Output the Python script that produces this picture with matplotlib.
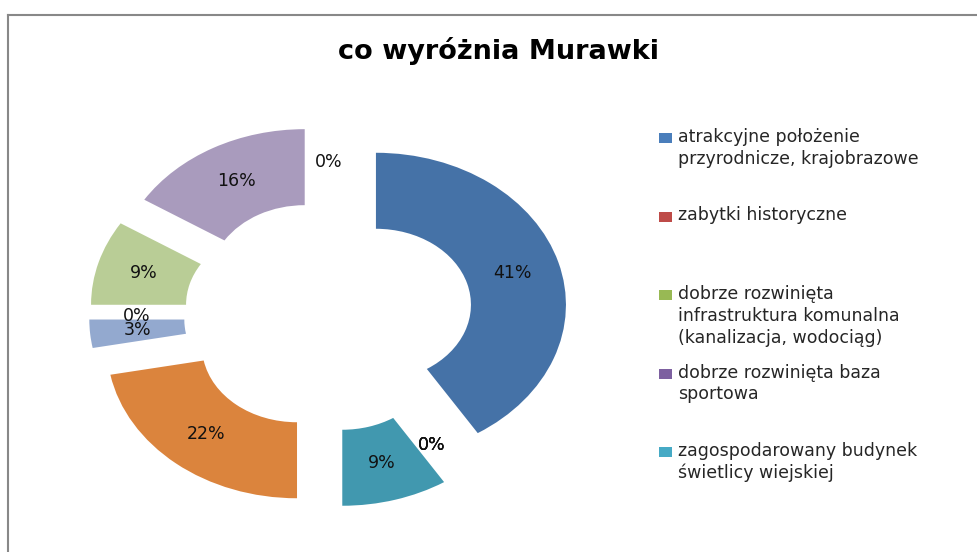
import matplotlib
matplotlib.use('Agg')
import matplotlib.pyplot as plt
from matplotlib.patches import Rectangle
from matplotlib.lines import Line2D

title = "co wyróżnia Murawki"
legend_labels = [
    "atrakcyjne położenie\nprzyrodnicze, krajobrazowe",
    "zabytki historyczne",
    "dobrze rozwinięta\ninfrastruktura komunalna\n(kanalizacja, wodociąg)",
    "dobrze rozwinięta baza\nsportowa",
    "zagospodarowany budynek\nświetlicy wiejskiej",
]
legend_colors = ['#4A7EBB', '#BE4B48', '#98B954', '#7D60A0', '#46AAC5']
values = [41, 0, 0, 0, 9, 22, 3, 0, 9, 16, 0]
slice_colors = ['#4572A7', '#AA4643', '#89A54E', '#80699B', '#4198AF', '#DB843D',
                '#93A9CF', '#A47D7C', '#B9CD96', '#A99BBD', '#9BD0DE']

W, H = 978, 552
fig = plt.figure(figsize=(W / 100, H / 100), dpi=100)
fig.patch.set_facecolor('white')

def fx(px):
    return px / W

def fy(py):
    return 1 - py / H

# donut axes
cx, cy = 328.5, 315.8
rx, ry = 190, 152
lim = 1.5
ax = fig.add_axes([fx(cx - lim * rx), fy(cy + lim * ry), 2 * lim * rx / W, 2 * lim * ry / H])
wedges, texts, autotexts = ax.pie(
    values, explode=[0.26] * len(values), startangle=90, counterclock=False,
    colors=slice_colors, autopct='%.0f%%', pctdistance=0.75,
    wedgeprops=dict(width=0.5, linewidth=0),
    textprops=dict(fontsize=12.5, color='#111111', family='DejaVu Sans'))
ax.set_aspect('auto')
ax.set_xlim(-lim, lim)
ax.set_ylim(-lim, lim)
ax.axis('off')

# title
fig.text(fx(499), fy(59), title, ha='center', va='baseline', fontsize=19.5,
         fontweight='bold', family='DejaVu Sans', color='black')

# legend
top0 = 133
step = 78.5
for i, (lab, col) in enumerate(zip(legend_labels, legend_colors)):
    t = top0 + i * step
    fig.add_artist(Rectangle((fx(659), fy(t + 10)), 13 / W, 10 / H,
                             facecolor=col, edgecolor='none', transform=fig.transFigure))
    fig.text(fx(678), fy(t - 5), lab, ha='left', va='top', fontsize=12.5,
             family='DejaVu Sans', color='#262626', linespacing=1.27)

# chart border
border = '#888888'
fig.add_artist(Line2D([fx(8), fx(978)], [fy(15), fy(15)], color=border, lw=1.5,
                      transform=fig.transFigure))
fig.add_artist(Line2D([fx(8), fx(8)], [fy(15), fy(552)], color=border, lw=1.5,
                      transform=fig.transFigure))

fig.savefig('out.png', dpi=100, facecolor='white')
